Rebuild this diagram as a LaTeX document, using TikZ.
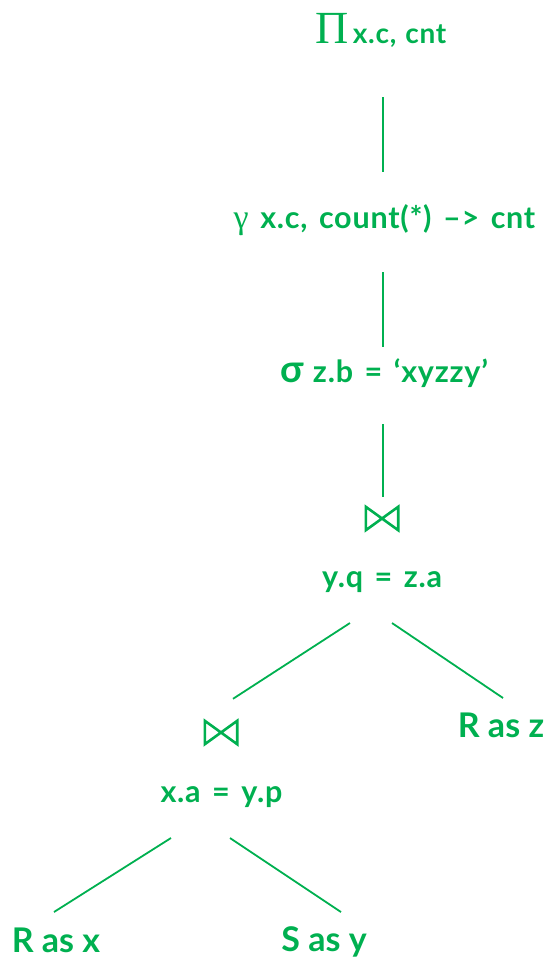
\documentclass[tikz,border=0pt]{standalone}
\usepackage{fontspec}
\setmainfont{Lato}
\newfontfamily\lblfont{Lato}[LetterSpace=2.5]
\newfontfamily\serifgr{Liberation Serif}
\definecolor{rgreen}{RGB}{0,176,80}
\newcommand\lblsetup{\lblfont\fontsize{30.5}{34}\selectfont\bfseries\spaceskip=11.5pt plus 1pt\relax}
\newcommand\subsetup{\lblfont\fontsize{28}{30}\selectfont\bfseries\spaceskip=9pt plus 1pt\relax}
\begin{document}
\begin{tikzpicture}[x=1pt,y=-1pt,
  every node/.style={text=rgreen, inner sep=0pt, anchor=base},
  lbl/.style={font=\lblsetup},
  leaf/.style={font=\fontsize{34}{38}\selectfont\bfseries},
  edge/.style={draw=rgreen, line width=1.8pt},
  joinbox/.style={minimum width=32pt, minimum height=23pt, anchor=center},
  tie/.style={draw=rgreen, line width=2.6pt, line join=miter}]
\useasboundingbox (0,0) rectangle (549,958);
% nodes
\node (pi) at (381,44) {{\serifgr\mdseries\fontsize{46}{50}\selectfont Π}\hspace{4pt}{\subsetup x.c, cnt}};
\node[lbl] (gamma) at (384.5,228) {{\serifgr\mdseries\fontsize{34}{40}\selectfont γ} x.c, count(*) \textendash> cnt};
\node[lbl] (sigma) at (384,382) {{\fontsize{38}{40}\selectfont σ}\hspace{-2pt} z.b = ‘xyzzy’};
\node[joinbox] (j1) at (382,518.5) {};
\node[lbl] (c1) at (382,587) {y.q = z.a};
\node[joinbox] (j2) at (221,732.5) {};
\node[lbl] (c2) at (221.5,802) {x.a = y.p};
\node[leaf] (rz) at (501,737) {R as z};
\node[leaf] (rx) at (56,952) {R as x};
\node[leaf] (sy) at (324,951.5) {S as y};
% bowties
\draw[tie] (j1.north west) -- (j1.south west) -- (j1.north east) -- (j1.south east) -- cycle;
\draw[tie] (j2.north west) -- (j2.south west) -- (j2.north east) -- (j2.south east) -- cycle;
% connectors
\draw[edge] ([shift={(2,53)}]pi.base) -- ([shift={(-1.5,-56)}]gamma.base);
\draw[edge] ([shift={(-1.5,44)}]gamma.base) -- ([shift={(-1,-35)}]sigma.base);
\draw[edge] ([shift={(-1,42)}]sigma.base) -- ([shift={(1,-10)}]j1.north);
\draw[edge] ([shift={(-32,36)}]c1.base) -- ([shift={(12,-22)}]j2.north);
\draw[edge] ([shift={(10,36)}]c1.base) -- ([shift={(2,-39)}]rz.base);
\draw[edge] ([shift={(-50.5,36)}]c2.base) -- ([shift={(-2,-40)}]rx.base);
\draw[edge] ([shift={(8.5,36)}]c2.base) -- ([shift={(17,-39.5)}]sy.base);
\end{tikzpicture}
\end{document}
